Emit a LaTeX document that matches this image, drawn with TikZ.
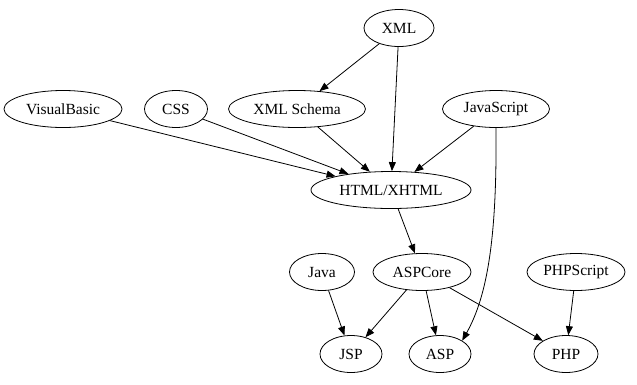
\documentclass[tikz,border=0pt]{standalone}
\usepackage{fontspec}
\setmainfont{Liberation Serif}
\usetikzlibrary{shapes.geometric,arrows.meta}
\begin{document}
\begin{tikzpicture}[x=1pt,y=-1pt,
  gnode/.style={draw, ellipse, line width=0.8pt, inner sep=0pt,
                minimum height=37pt, font=\fontsize{15.5}{18}\selectfont},
  dep/.style={-{Triangle[length=9pt,width=7pt]}, line width=0.8pt}]
\useasboundingbox (0,0) rectangle (637,384);

% technologies
\node[gnode, minimum width=70pt]  (xml)       at (399,28)  {XML};
\node[gnode, minimum width=118pt] (vb)        at (63,109)  {VisualBasic};
\node[gnode, minimum width=63pt]  (css)       at (176,109) {CSS};
\node[gnode, minimum width=137pt] (xsd)       at (297,109) {XML Schema};
\node[gnode, minimum width=107pt] (js)        at (496,109) {JavaScript};
\node[gnode, minimum width=160pt] (html)      at (391,190) {HTML/XHTML};
\node[gnode, minimum width=65pt]  (java)      at (322,272) {Java};
\node[gnode, minimum width=98pt]  (aspcore)   at (422,272) {ASPCore};
\node[gnode, minimum width=98pt]  (phpscript) at (576,272) {PHPScript};
\node[gnode, minimum width=62pt]  (jsp)       at (351,354) {JSP};
\node[gnode, minimum width=62pt]  (asp)       at (440,354) {ASP};
\node[gnode, minimum width=64pt]  (php)       at (566,354) {PHP};

% dependencies
\draw[dep] (xml) -- (xsd);
\draw[dep] (xml) -- (html);
\draw[dep] (vb) -- (html);
\draw[dep] (css) -- (html);
\draw[dep] (xsd) -- (html);
\draw[dep] (js) -- (html);
\draw[dep] (js.south) .. controls (497,235) and (488,295) .. (asp.north east);
\draw[dep] (html) -- (aspcore);
\draw[dep] (java) -- (jsp);
\draw[dep] (aspcore) -- (jsp);
\draw[dep] (aspcore) -- (asp);
\draw[dep] (aspcore) -- (php);
\draw[dep] (phpscript) -- (php);
\end{tikzpicture}
\end{document}
